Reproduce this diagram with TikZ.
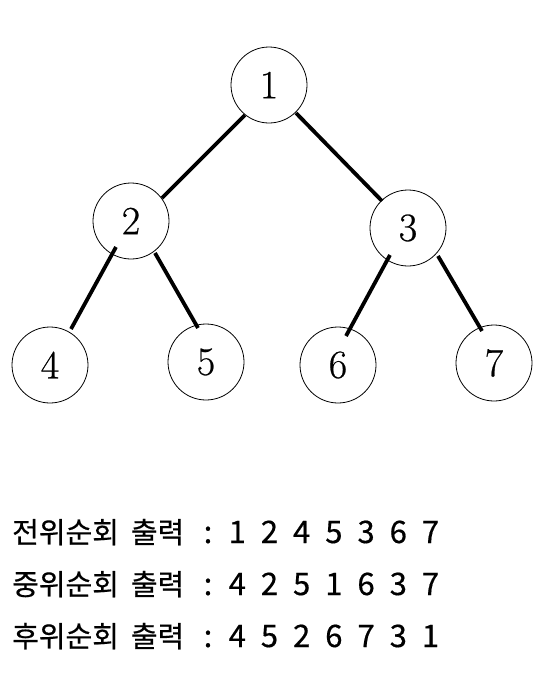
\documentclass[tikz,border=0pt]{standalone}
\usepackage{fontspec}
\newfontfamily\krfont{Noto Sans CJK KR}[FakeBold=0.5]
\newfontfamily\nodefont{Latin Modern Roman}[FakeBold=0.6]
\usetikzlibrary{calc}
\begin{document}
\begin{tikzpicture}[x=1pt,y=-1pt,
  vertex/.style={circle,draw,line width=0.8pt,minimum size=76pt,inner sep=0pt,font=\nodefont\fontsize{40}{40}\selectfont},
  edge/.style={line width=3.8pt},
  lbl/.style={anchor=base west,inner sep=0pt,font=\krfont\fontsize{29}{29}\selectfont},
  colon/.style={anchor=base,inner sep=0pt,font=\krfont\fontsize{31}{31}\selectfont},
  digs/.style={anchor=base west,inner sep=0pt,font=\krfont\fontsize{31}{31}\selectfont}]
\useasboundingbox (0,0) rectangle (556,686);
\node[vertex] (n1) at (269,85) {1};
\node[vertex] (n2) at (131,221) {2};
\node[vertex] (n3) at (408,228) {3};
\node[vertex] (n4) at (50,365) {4};
\node[vertex] (n5) at (206,362) {5};
\node[vertex] (n6) at (338,365) {6};
\node[vertex] (n7) at (494,363) {7};
\draw[edge] ($(n1)+(-24,30)$) -- ($(n2)+(31,-23)$);
\draw[edge] ($(n1)+(27,28)$) -- ($(n3)+(-26,-27)$);
\draw[edge] ($(n2)+(-15,26)$) -- ($(n4)+(21,-36)$);
\draw[edge] ($(n2)+(24,32)$) -- ($(n5)+(-8,-34)$);
\draw[edge] ($(n3)+(-18,27)$) -- ($(n6)+(8,-29)$);
\draw[edge] ($(n3)+(30,28)$) -- ($(n7)+(-12,-32)$);
\node[lbl] (l1) at (12,543) {\spaceskip=12pt\relax 전위순회 출력};
\node[colon] (c1) at (208,543) {:};
\node[digs] (d1) at (228.5,543) {\spaceskip=15pt\relax 1 2 4 5 3 6 7};
\node[lbl] (l2) at (12,595) {\spaceskip=12pt\relax 중위순회 출력};
\node[colon] (c2) at (208,595) {:};
\node[digs] (d2) at (228.5,595) {\spaceskip=15pt\relax 4 2 5 1 6 3 7};
\node[lbl] (l3) at (12,647) {\spaceskip=12pt\relax 후위순회 출력};
\node[colon] (c3) at (208,647) {:};
\node[digs] (d3) at (228.5,647) {\spaceskip=15pt\relax 4 5 2 6 7 3 1};
\end{tikzpicture}
\end{document}
